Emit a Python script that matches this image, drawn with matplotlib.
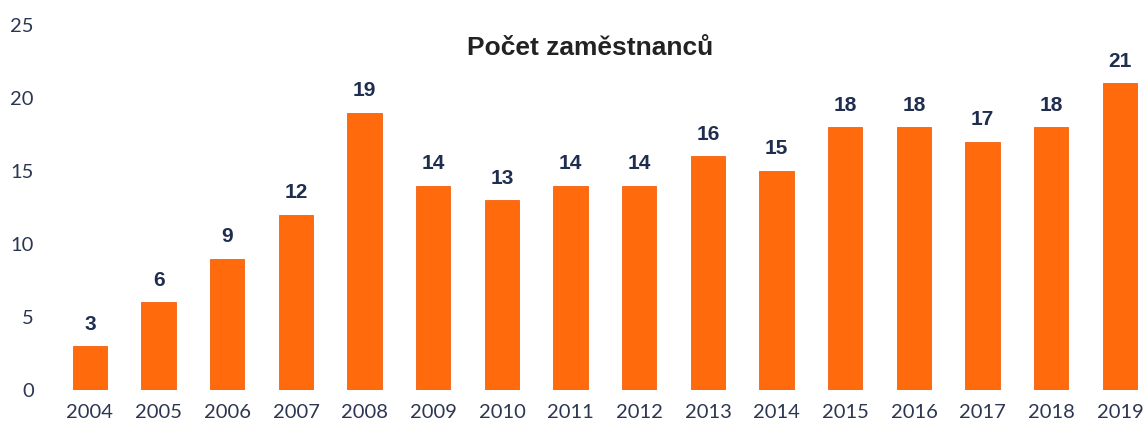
import matplotlib
matplotlib.use('Agg')
import matplotlib.pyplot as plt

# Data
years = ['2004', '2005', '2006', '2007', '2008', '2009', '2010', '2011',
         '2012', '2013', '2014', '2015', '2016', '2017', '2018', '2019']
employees = [3, 6, 9, 12, 19, 14, 13, 14, 14, 16, 15, 18, 18, 17, 18, 21]
y_ticks = [0, 5, 10, 15, 20, 25]
title = 'Počet zaměstnanců'

bar_color = '#FF6A0C'
text_color = '#1F2D4F'
tick_color = '#2C3652'

fig = plt.figure(figsize=(11.45, 4.33), dpi=100)
ax = fig.add_axes([45 / 1145, 43 / 433, 1099 / 1145, 365 / 433])

x = range(len(years))
bars = ax.bar(x, employees, width=0.5, color=bar_color, edgecolor='#F26210', linewidth=0.6)

for xi, v in zip(x, employees):
    ax.annotate(str(v), (xi, v), xytext=(0, 9), textcoords='offset points',
                ha='center', va='bottom', fontsize=15, fontweight='bold',
                color=text_color, family='Liberation Sans')

ax.set_xlim(-0.655, 15.35)
ax.set_ylim(0, 25)
ax.set_xticks(list(x))
ax.set_xticklabels(years)
ax.set_yticks(y_ticks)
ax.tick_params(axis='both', length=0, labelsize=14.5, colors=tick_color)
ax.tick_params(axis='y', pad=8)
ax.tick_params(axis='x', pad=10)
for lbl in ax.get_xticklabels() + ax.get_yticklabels():
    lbl.set_family('Lato')
for s in ax.spines.values():
    s.set_visible(False)

fig.text(590 / 1145, 1 - 48 / 433, title, ha='center', va='center',
         fontsize=19, fontweight='bold', color='#222222', family='Liberation Sans')

fig.savefig('out.png', dpi=100)
